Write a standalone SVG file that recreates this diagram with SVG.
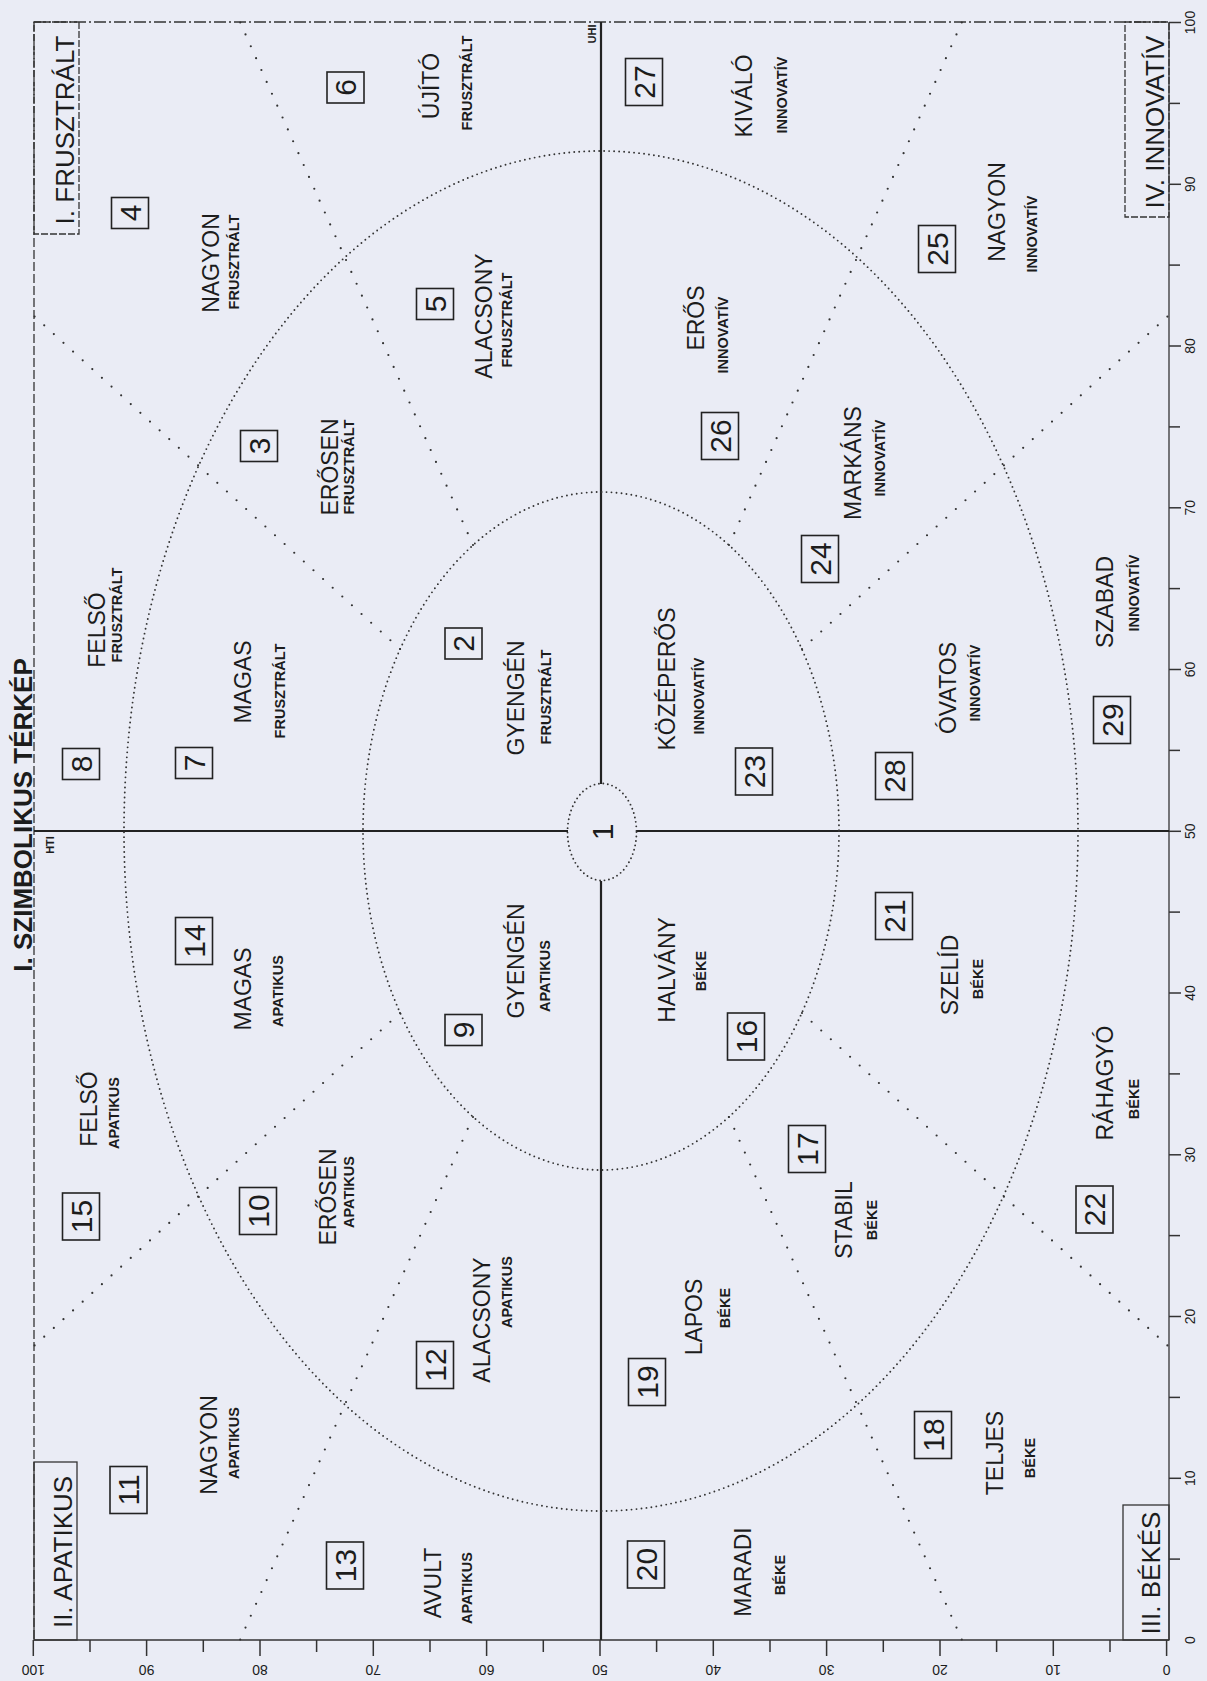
<svg xmlns="http://www.w3.org/2000/svg" width="1207" height="1681" viewBox="0 0 1207 1681">
<style>
text{font-family:"Liberation Sans",Arial,sans-serif;fill:#1c1c1c}
.big{font-size:23px}
.sm{font-size:14.5px;font-weight:bold}
.num{font-size:30px}
.corner{font-size:26px}
.title{font-size:26px;font-weight:bold}
.ax{font-size:14px}
.tiny{font-size:11px;font-weight:bold}
.box{fill:none;stroke:#222;stroke-width:1.6}
.solid{stroke:#222;stroke-width:2.2;fill:none}
.ell{fill:none;stroke:#333;stroke-width:1.9;stroke-dasharray:0 5;stroke-linecap:round}
.rad{fill:none;stroke:#333;stroke-width:2.2;stroke-dasharray:0 13;stroke-linecap:round}
.frame{fill:none;stroke:#333;stroke-width:1.3}
.tick{stroke:#333;stroke-width:1.5}
</style>
<rect x="0" y="0" width="1207" height="1681" fill="#eaecf5"/>

<g id="connectors">
  <line class="frame" x1="34" y1="22" x2="1169" y2="22" stroke-dasharray="12 3 2 3"/>
  <line class="frame" x1="34" y1="22" x2="34" y2="1640" stroke-dasharray="9 3"/>
  <line class="frame" x1="1169" y1="22" x2="1169" y2="1640"/>
  <line class="frame" x1="34" y1="1640" x2="1169" y2="1640" stroke-width="1.6"/>
  <line class="solid" x1="601" y1="22" x2="601" y2="784"/>
  <line class="solid" x1="601" y1="881" x2="601" y2="1640"/>
  <line class="solid" x1="34" y1="831" x2="568" y2="831"/>
  <line class="solid" x1="636" y1="831" x2="1169" y2="831"/>
  <ellipse class="ell" cx="601" cy="831" rx="238" ry="339"/>
  <ellipse class="ell" cx="601" cy="831" rx="477" ry="680"/>
  <line class="rad" x1="473" y1="545" x2="240" y2="22"/>
  <line class="rad" x1="400" y1="649" x2="34" y2="316"/>
  <line class="rad" x1="400" y1="1013" x2="34" y2="1346"/>
  <line class="rad" x1="473" y1="1117" x2="240" y2="1640"/>
  <line class="rad" x1="729" y1="545" x2="962" y2="22"/>
  <line class="rad" x1="802" y1="649" x2="1168" y2="316"/>
  <line class="rad" x1="802" y1="1013" x2="1168" y2="1346"/>
  <line class="rad" x1="729" y1="1117" x2="962" y2="1640"/>
</g>

<g id="axis-right">
  <g class="tick">
    <line x1="1169" y1="22.5" x2="1181" y2="22.5"/><line x1="1169" y1="103.4" x2="1180" y2="103.4"/>
    <line x1="1169" y1="184.3" x2="1181" y2="184.3"/><line x1="1169" y1="265.1" x2="1180" y2="265.1"/>
    <line x1="1169" y1="346" x2="1181" y2="346"/><line x1="1169" y1="426.9" x2="1180" y2="426.9"/>
    <line x1="1169" y1="507.8" x2="1181" y2="507.8"/><line x1="1169" y1="588.6" x2="1180" y2="588.6"/>
    <line x1="1169" y1="669.5" x2="1181" y2="669.5"/><line x1="1169" y1="750.4" x2="1180" y2="750.4"/>
    <line x1="1169" y1="831.3" x2="1181" y2="831.3"/><line x1="1169" y1="912.1" x2="1180" y2="912.1"/>
    <line x1="1169" y1="993" x2="1181" y2="993"/><line x1="1169" y1="1073.9" x2="1180" y2="1073.9"/>
    <line x1="1169" y1="1154.8" x2="1181" y2="1154.8"/><line x1="1169" y1="1235.6" x2="1180" y2="1235.6"/>
    <line x1="1169" y1="1316.5" x2="1181" y2="1316.5"/><line x1="1169" y1="1397.4" x2="1180" y2="1397.4"/>
    <line x1="1169" y1="1478.3" x2="1181" y2="1478.3"/><line x1="1169" y1="1559.1" x2="1180" y2="1559.1"/>
  </g>
  <g class="ax" text-anchor="middle">
    <text transform="translate(1195,22.5) rotate(-90)">100</text>
    <text transform="translate(1195,184.3) rotate(-90)">90</text>
    <text transform="translate(1195,346) rotate(-90)">80</text>
    <text transform="translate(1195,507.8) rotate(-90)">70</text>
    <text transform="translate(1195,669.5) rotate(-90)">60</text>
    <text transform="translate(1195,831.3) rotate(-90)">50</text>
    <text transform="translate(1195,993) rotate(-90)">40</text>
    <text transform="translate(1195,1154.8) rotate(-90)">30</text>
    <text transform="translate(1195,1316.5) rotate(-90)">20</text>
    <text transform="translate(1195,1478.3) rotate(-90)">10</text>
    <text transform="translate(1195,1640) rotate(-90)">0</text>
  </g>
</g>

<g id="axis-bottom">
  <g class="tick">
    <line x1="33.3" y1="1640" x2="33.3" y2="1656"/><line x1="90" y1="1640" x2="90" y2="1652"/>
    <line x1="146.6" y1="1640" x2="146.6" y2="1656"/><line x1="203.3" y1="1640" x2="203.3" y2="1652"/>
    <line x1="260" y1="1640" x2="260" y2="1656"/><line x1="316.6" y1="1640" x2="316.6" y2="1652"/>
    <line x1="373.3" y1="1640" x2="373.3" y2="1656"/><line x1="430" y1="1640" x2="430" y2="1652"/>
    <line x1="486.6" y1="1640" x2="486.6" y2="1656"/><line x1="543.3" y1="1640" x2="543.3" y2="1652"/>
    <line x1="600" y1="1640" x2="600" y2="1656"/><line x1="656.6" y1="1640" x2="656.6" y2="1652"/>
    <line x1="713.3" y1="1640" x2="713.3" y2="1656"/><line x1="770" y1="1640" x2="770" y2="1652"/>
    <line x1="826.6" y1="1640" x2="826.6" y2="1656"/><line x1="883.3" y1="1640" x2="883.3" y2="1652"/>
    <line x1="940" y1="1640" x2="940" y2="1656"/><line x1="996.6" y1="1640" x2="996.6" y2="1652"/>
    <line x1="1053.3" y1="1640" x2="1053.3" y2="1656"/><line x1="1110" y1="1640" x2="1110" y2="1652"/>
    <line x1="1166.6" y1="1640" x2="1166.6" y2="1656"/>
  </g>
  <g class="ax" text-anchor="middle">
    <text transform="translate(33.3,1665) rotate(180)">100</text>
    <text transform="translate(146.6,1665) rotate(180)">90</text>
    <text transform="translate(260,1665) rotate(180)">80</text>
    <text transform="translate(373.3,1665) rotate(180)">70</text>
    <text transform="translate(486.6,1665) rotate(180)">60</text>
    <text transform="translate(600,1665) rotate(180)">50</text>
    <text transform="translate(713.3,1665) rotate(180)">40</text>
    <text transform="translate(826.6,1665) rotate(180)">30</text>
    <text transform="translate(940,1665) rotate(180)">20</text>
    <text transform="translate(1053.3,1665) rotate(180)">10</text>
    <text transform="translate(1166.6,1665) rotate(180)">0</text>
  </g>
</g>

<g id="labels" text-anchor="middle">
  <text class="title" transform="translate(32,815) rotate(-90)">I. SZIMBOLIKUS TÉRKÉP</text>
  <text class="tiny" transform="translate(596,34) rotate(-90)">UHI</text>
  <text class="tiny" transform="translate(54,845) rotate(-90)">HTI</text>
</g>

<g id="q1" text-anchor="middle">
  <rect class="frame" x="34" y="22" width="45" height="212" stroke-dasharray="7 2"/>
  <text class="corner" transform="translate(74,130) rotate(-90)">I. FRUSZTRÁLT</text>
</g>
<g id="q4" text-anchor="middle">
  <rect class="frame" x="1125" y="22" width="44" height="195" stroke-dasharray="7 2"/>
  <text class="corner" transform="translate(1164,122) rotate(-90)">IV. INNOVATÍV</text>
</g>
<g id="q2" text-anchor="middle">
  <rect class="frame" x="34" y="1462" width="43" height="178"/>
  <text class="corner" transform="translate(72,1552) rotate(-90)">II. APATIKUS</text>
</g>
<g id="q3" text-anchor="middle">
  <rect class="frame" x="1123" y="1505" width="46" height="135"/>
  <text class="corner" transform="translate(1160,1573) rotate(-90)">III. BÉKÉS</text>
</g>

<g id="node-1" text-anchor="middle">
  <ellipse class="ell" cx="602" cy="832" rx="34.5" ry="48.5" style="stroke-dasharray:0 4.5"/>
  <text class="num" transform="translate(613,832) rotate(-90)">1</text>
</g>

<g id="node-2" text-anchor="middle">
  <rect class="box" x="445" y="628" width="37" height="31"/>
  <text class="num" transform="translate(474,643.5) rotate(-90)">2</text>
  <text class="big" transform="translate(524,698) rotate(-90)">GYENGÉN</text>
  <text class="sm" transform="translate(551,697) rotate(-90)">FRUSZTRÁLT</text>
</g>
<g id="node-3" text-anchor="middle">
  <rect class="box" x="240.5" y="430.5" width="37" height="31"/>
  <text class="num" transform="translate(269.5,446) rotate(-90)">3</text>
  <text class="big" transform="translate(338,467) rotate(-90)">ERŐSEN</text>
  <text class="sm" transform="translate(354,467) rotate(-90)">FRUSZTRÁLT</text>
</g>
<g id="node-4" text-anchor="middle">
  <rect class="box" x="111.5" y="197.5" width="37" height="31"/>
  <text class="num" transform="translate(140.5,213) rotate(-90)">4</text>
  <text class="big" transform="translate(219,263) rotate(-90)">NAGYON</text>
  <text class="sm" transform="translate(239,262) rotate(-90)">FRUSZTRÁLT</text>
</g>
<g id="node-5" text-anchor="middle">
  <rect class="box" x="416.5" y="288.5" width="37" height="31"/>
  <text class="num" transform="translate(445.5,304) rotate(-90)">5</text>
  <text class="big" transform="translate(492,316) rotate(-90)">ALACSONY</text>
  <text class="sm" transform="translate(512,320) rotate(-90)">FRUSZTRÁLT</text>
</g>
<g id="node-6" text-anchor="middle">
  <rect class="box" x="327" y="72" width="37" height="31"/>
  <text class="num" transform="translate(356,87.5) rotate(-90)">6</text>
  <text class="big" transform="translate(439,86) rotate(-90)">ÚJÍTÓ</text>
  <text class="sm" transform="translate(472,83) rotate(-90)">FRUSZTRÁLT</text>
</g>
<g id="node-7" text-anchor="middle">
  <rect class="box" x="175.5" y="747.5" width="37" height="31"/>
  <text class="num" transform="translate(204.5,763) rotate(-90)">7</text>
  <text class="big" transform="translate(251,682) rotate(-90)">MAGAS</text>
  <text class="sm" transform="translate(285,691) rotate(-90)">FRUSZTRÁLT</text>
</g>
<g id="node-8" text-anchor="middle">
  <rect class="box" x="62.5" y="748.5" width="37" height="31"/>
  <text class="num" transform="translate(91.5,764) rotate(-90)">8</text>
  <text class="big" transform="translate(105,630) rotate(-90)">FELSŐ</text>
  <text class="sm" transform="translate(122,615) rotate(-90)">FRUSZTRÁLT</text>
</g>

<g id="node-9" text-anchor="middle">
  <rect class="box" x="445" y="1014.5" width="37" height="31"/>
  <text class="num" transform="translate(474,1030) rotate(-90)">9</text>
  <text class="big" transform="translate(524,961) rotate(-90)">GYENGÉN</text>
  <text class="sm" transform="translate(550,976) rotate(-90)">APATIKUS</text>
</g>
<g id="node-10" text-anchor="middle">
  <rect class="box" x="239.5" y="1187.5" width="37" height="47"/>
  <text class="num" transform="translate(268.5,1211) rotate(-90)">10</text>
  <text class="big" transform="translate(336,1197) rotate(-90)">ERŐSEN</text>
  <text class="sm" transform="translate(354,1192) rotate(-90)">APATIKUS</text>
</g>
<g id="node-11" text-anchor="middle">
  <rect class="box" x="110" y="1466.5" width="37" height="47"/>
  <text class="num" transform="translate(139,1490) rotate(-90)">11</text>
  <text class="big" transform="translate(217,1445) rotate(-90)">NAGYON</text>
  <text class="sm" transform="translate(239,1443) rotate(-90)">APATIKUS</text>
</g>
<g id="node-12" text-anchor="middle">
  <rect class="box" x="416.5" y="1341.5" width="37" height="47"/>
  <text class="num" transform="translate(445.5,1365) rotate(-90)">12</text>
  <text class="big" transform="translate(490,1320) rotate(-90)">ALACSONY</text>
  <text class="sm" transform="translate(512,1292) rotate(-90)">APATIKUS</text>
</g>
<g id="node-13" text-anchor="middle">
  <rect class="box" x="326.5" y="1542" width="37" height="47"/>
  <text class="num" transform="translate(355.5,1565.5) rotate(-90)">13</text>
  <text class="big" transform="translate(441,1583) rotate(-90)">AVULT</text>
  <text class="sm" transform="translate(472,1588) rotate(-90)">APATIKUS</text>
</g>
<g id="node-14" text-anchor="middle">
  <rect class="box" x="175.5" y="917.5" width="37" height="47"/>
  <text class="num" transform="translate(204.5,941) rotate(-90)">14</text>
  <text class="big" transform="translate(251,989) rotate(-90)">MAGAS</text>
  <text class="sm" transform="translate(283,991) rotate(-90)">APATIKUS</text>
</g>
<g id="node-15" text-anchor="middle">
  <rect class="box" x="62.5" y="1193" width="37" height="47"/>
  <text class="num" transform="translate(91.5,1216.5) rotate(-90)">15</text>
  <text class="big" transform="translate(97,1109) rotate(-90)">FELSŐ</text>
  <text class="sm" transform="translate(119,1113) rotate(-90)">APATIKUS</text>
</g>

<g id="node-16" text-anchor="middle">
  <rect class="box" x="727.5" y="1013" width="37" height="47"/>
  <text class="num" transform="translate(756.5,1036.5) rotate(-90)">16</text>
  <text class="big" transform="translate(675,970) rotate(-90)">HALVÁNY</text>
  <text class="sm" transform="translate(706,971) rotate(-90)">BÉKE</text>
</g>
<g id="node-17" text-anchor="middle">
  <rect class="box" x="788.5" y="1125.5" width="37" height="47"/>
  <text class="num" transform="translate(817.5,1149) rotate(-90)">17</text>
  <text class="big" transform="translate(852,1220) rotate(-90)">STABIL</text>
  <text class="sm" transform="translate(877,1220) rotate(-90)">BÉKE</text>
</g>
<g id="node-18" text-anchor="middle">
  <rect class="box" x="914.5" y="1411.5" width="37" height="47"/>
  <text class="num" transform="translate(943.5,1435) rotate(-90)">18</text>
  <text class="big" transform="translate(1003,1453) rotate(-90)">TELJES</text>
  <text class="sm" transform="translate(1035,1458) rotate(-90)">BÉKE</text>
</g>
<g id="node-19" text-anchor="middle">
  <rect class="box" x="628.5" y="1358.5" width="37" height="47"/>
  <text class="num" transform="translate(657.5,1382) rotate(-90)">19</text>
  <text class="big" transform="translate(702,1317) rotate(-90)">LAPOS</text>
  <text class="sm" transform="translate(730,1308) rotate(-90)">BÉKE</text>
</g>
<g id="node-20" text-anchor="middle">
  <rect class="box" x="627.5" y="1541" width="37" height="47"/>
  <text class="num" transform="translate(656.5,1564.5) rotate(-90)">20</text>
  <text class="big" transform="translate(751,1572) rotate(-90)">MARADI</text>
  <text class="sm" transform="translate(785,1575) rotate(-90)">BÉKE</text>
</g>
<g id="node-21" text-anchor="middle">
  <rect class="box" x="875.5" y="892.5" width="37" height="47"/>
  <text class="num" transform="translate(904.5,916) rotate(-90)">21</text>
  <text class="big" transform="translate(958,975) rotate(-90)">SZELÍD</text>
  <text class="sm" transform="translate(983,979) rotate(-90)">BÉKE</text>
</g>
<g id="node-22" text-anchor="middle">
  <rect class="box" x="1076" y="1186" width="37" height="47"/>
  <text class="num" transform="translate(1105,1209.5) rotate(-90)">22</text>
  <text class="big" transform="translate(1113,1083) rotate(-90)">RÁHAGYÓ</text>
  <text class="sm" transform="translate(1139,1099) rotate(-90)">BÉKE</text>
</g>

<g id="node-23" text-anchor="middle">
  <rect class="box" x="735.5" y="748" width="37" height="47"/>
  <text class="num" transform="translate(764.5,771.5) rotate(-90)">23</text>
  <text class="big" transform="translate(675,679) rotate(-90)">KÖZÉPERŐS</text>
  <text class="sm" transform="translate(704,696) rotate(-90)">INNOVATÍV</text>
</g>
<g id="node-24" text-anchor="middle">
  <rect class="box" x="801.5" y="535.5" width="37" height="47"/>
  <text class="num" transform="translate(830.5,559) rotate(-90)">24</text>
  <text class="big" transform="translate(861,463) rotate(-90)">MARKÁNS</text>
  <text class="sm" transform="translate(885,458) rotate(-90)">INNOVATÍV</text>
</g>
<g id="node-25" text-anchor="middle">
  <rect class="box" x="918.5" y="225.5" width="37" height="47"/>
  <text class="num" transform="translate(947.5,249) rotate(-90)">25</text>
  <text class="big" transform="translate(1005,212) rotate(-90)">NAGYON</text>
  <text class="sm" transform="translate(1037,234) rotate(-90)">INNOVATÍV</text>
</g>
<g id="node-26" text-anchor="middle">
  <rect class="box" x="701.5" y="412.5" width="37" height="47"/>
  <text class="num" transform="translate(730.5,436) rotate(-90)">26</text>
  <text class="big" transform="translate(704,318) rotate(-90)">ERŐS</text>
  <text class="sm" transform="translate(728,335) rotate(-90)">INNOVATÍV</text>
</g>
<g id="node-27" text-anchor="middle">
  <rect class="box" x="625.5" y="58.5" width="37" height="47"/>
  <text class="num" transform="translate(654.5,82) rotate(-90)">27</text>
  <text class="big" transform="translate(752,96) rotate(-90)">KIVÁLÓ</text>
  <text class="sm" transform="translate(787,95) rotate(-90)">INNOVATÍV</text>
</g>
<g id="node-28" text-anchor="middle">
  <rect class="box" x="875.5" y="752.5" width="37" height="47"/>
  <text class="num" transform="translate(904.5,776) rotate(-90)">28</text>
  <text class="big" transform="translate(956,688) rotate(-90)">ÓVATOS</text>
  <text class="sm" transform="translate(980,683) rotate(-90)">INNOVATÍV</text>
</g>
<g id="node-29" text-anchor="middle">
  <rect class="box" x="1093.5" y="696.5" width="37" height="47"/>
  <text class="num" transform="translate(1122.5,720) rotate(-90)">29</text>
  <text class="big" transform="translate(1113,602) rotate(-90)">SZABAD</text>
  <text class="sm" transform="translate(1139,593) rotate(-90)">INNOVATÍV</text>
</g>
</svg>
